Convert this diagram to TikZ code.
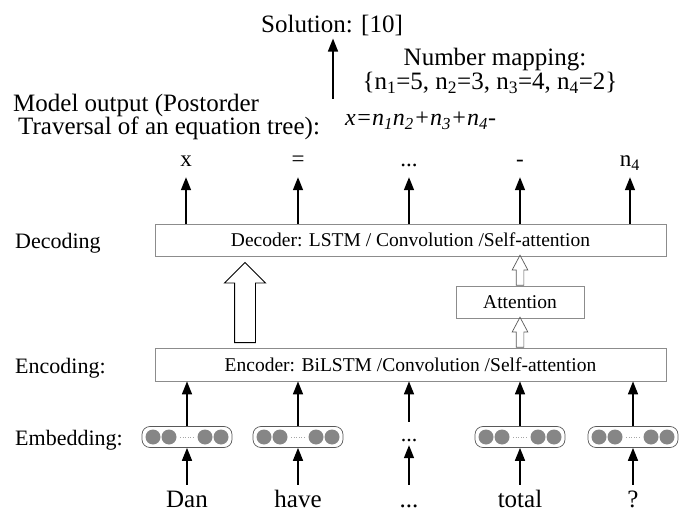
\documentclass[tikz,border=0pt]{standalone}
\usepackage{fontspec}
\setmainfont{Liberation Serif}
\usetikzlibrary{arrows.meta,shapes.arrows,positioning}
\tikzset{
big/.style={font=\fontsize{25}{28}\selectfont},
mid/.style={font=\fontsize{22}{25}\selectfont},
small/.style={font=\fontsize{19.5}{22}\selectfont},
layer/.style={draw=gray!90, line width=0.8pt, minimum width=511pt, minimum height=32pt, small, inner sep=0pt},
up/.style={-{Triangle[length=13pt,width=10pt]}, line width=1.6pt},
tok/.style={font=\fontsize{23}{26}\selectfont, anchor=base, text height=16pt, text depth=3pt, inner xsep=0pt, inner ysep=7pt},
word/.style={big, anchor=base, text height=17pt, text depth=6pt, inner xsep=0pt, inner ysep=5pt},
fat/.style={draw, line width=0.9pt, single arrow, shape border rotate=90, single arrow head extend=10pt, single arrow head indent=0pt, minimum height=80pt, inner xsep=10pt, inner ysep=0pt, anchor=tail},
slim/.style={draw=gray!70!black, line width=0.7pt, single arrow, shape border rotate=90, single arrow head extend=4pt, single arrow head indent=0pt, single arrow tip angle=56, minimum height=30pt, inner xsep=3.5pt, inner ysep=0pt, anchor=tail},
embvec/.pic={
  \node[draw=gray!70!black, rounded corners=8pt, minimum width=90pt, minimum height=21pt, line width=0.7pt] (-box) {};
  \foreach \cx in {-34,-18,18,34} \fill[gray!95] (\cx pt,0) circle [radius=7.5pt];
  \draw[gray!70, dotted, line width=0.6pt] (-7pt,0) -- (8pt,0);
  }
}

\begin{document}
\begin{tikzpicture}[x=1pt, y=-1pt]
\useasboundingbox (0,0) rectangle (688,513);

% top: solution and mapping
\node[big, anchor=base, inner sep=2pt] (sol) at (332,33) {Solution: [10]};
\coordinate (solfoot) at (333,99);
\draw[up] (solfoot) -- (solfoot |- sol.south);
\node[big, anchor=base] (map) at (495,66) {Number mapping:};
\node[big, anchor=base] (mapset) at (490,90) {\{n\textsubscript{1}=5, n\textsubscript{2}=3, n\textsubscript{3}=4, n\textsubscript{4}=2\}};
\node[big, anchor=base west, inner sep=0pt] (out1) at (13,112) {Model output (Postorder};
\node[big, anchor=base west, inner sep=0pt] (out2) at (18,135) {Traversal of an equation tree):};
\node[font=\fontsize{24}{26}\selectfont, anchor=base west, inner sep=0pt] (eq) at (345,126) {\itshape x=n\textsubscript{1}n\textsubscript{2}+n\textsubscript{3}+n\textsubscript{4}-};

% output tokens
\node[tok] (t1) at (186,167) {x};
\node[tok] (t2) at (298,167) {=};
\node[tok] (t3) at (409,167) {...};
\node[tok] (t4) at (520,167) {-};
\node[tok] (t5) at (630,167) {n\textsubscript{4}};

% decoder
\node[layer] (dec) at (410.5,240) {Decoder: LSTM / Convolution /Self-attention};
\node[mid, anchor=base west, inner sep=0pt] (declab) at (15,248) {Decoding};
\foreach \t in {t1,t2,t3,t4,t5}
  \draw[up] (dec.north -| \t) -- (\t.south);

% attention
\node[layer, minimum width=128pt] (att) at (520,302) {Attention};

% encoder
\node[layer, minimum height=33pt] (enc) at (410.5,364.5) {Encoder: BiLSTM /Convolution /Self-attention};
\node[mid, anchor=base west, inner sep=0pt] (enclab) at (15,373) {Encoding:};

\node[fat] (big) at (245,343) {};
\node[slim] (a1) at (att.south |- enc.north) {};
\node[slim] (a2) at (att.north) {};

% embedding
\node[mid, anchor=base west, inner sep=0pt] (emblab) at (15,445) {Embedding:};
\pic (e1) at (187,437) {embvec};
\pic (e2) at (298,437) {embvec};
\node[mid, anchor=base, text height=19pt, text depth=4pt, inner sep=0pt] (e3-box) at (409,441) {...};
\pic (e4) at (520,437) {embvec};
\pic (e5) at (633,437) {embvec};

% words
\node[word] (w1) at (187,507) {Dan};
\node[word] (w2) at (298,507) {have};
\node[word] (w3) at (409,507) {...};
\node[word] (w4) at (520,507) {total};
\node[word] (w5) at (633,507) {?};

\foreach \i in {1,...,5} {
  \draw[up] (w\i.north) -- (e\i-box.south);
  \draw[up] (e\i-box.north) -- (e\i-box.north |- enc.south);
}
\end{tikzpicture}
\end{document}
